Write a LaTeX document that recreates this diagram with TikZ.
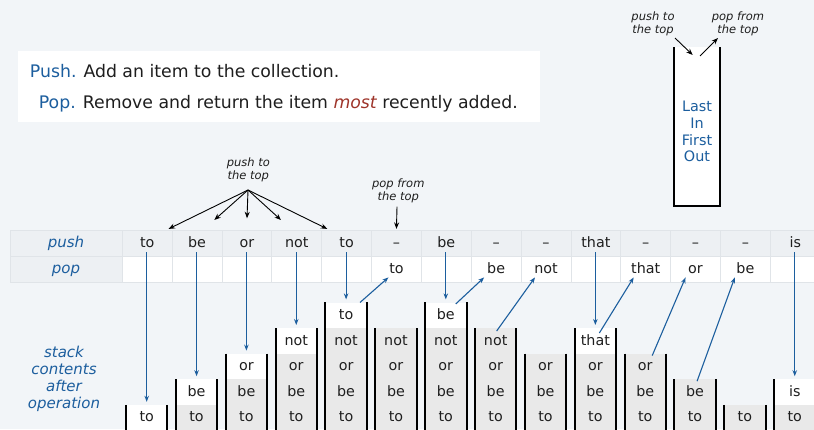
\documentclass[tikz,border=0pt]{standalone}
\usepackage{fontspec}
\setmainfont{DejaVu Sans}
\usetikzlibrary{arrows.meta,calc}
\definecolor{bg}{RGB}{242,245,248}
\definecolor{cellgray}{RGB}{237,240,243}
\definecolor{gridc}{RGB}{224,228,232}
\definecolor{stk}{RGB}{233,233,233}
\definecolor{myblue}{RGB}{28,94,158}
\definecolor{myred}{RGB}{158,52,42}
\definecolor{ink}{RGB}{30,30,30}
\tikzset{
  mainfont/.style={font=\fontsize{17.3}{20}\selectfont},
  tcell/.style={draw=gridc, line width=0.8pt, minimum width=49.85pt, minimum height=26pt,
    inner sep=0pt, font=\fontsize{14.3}{16}\selectfont, text height=11pt, text depth=3pt, text=ink},
  pushcell/.style={tcell, fill=cellgray},
  popcell/.style={tcell, fill=white},
  labcell/.style={tcell, fill=cellgray, minimum width=112pt, text=myblue,
    font=\fontsize{15}{17}\selectfont\itshape},
  stkcell/.style={minimum width=41pt, minimum height=25.6pt, inner sep=0pt,
    font=\fontsize{14.3}{16}\selectfont, text height=11pt, text depth=3pt, text=ink},
  wall/.style={line width=2pt, black},
  barrow/.style={myblue, line width=1.1pt, -{Stealth[length=6pt,width=4.5pt]}},
  karrow/.style={black, line width=0.9pt, -{Stealth[length=6.5pt,width=5pt]}},
  note/.style={font=\fontsize{11.5}{13.6}\selectfont\itshape, align=center, inner sep=0pt, text=ink},
}
\begin{document}
\begin{tikzpicture}[x=1pt,y=-1pt]
\fill[bg] (0,0) rectangle (814,429);
\useasboundingbox (0,0) rectangle (814,429);

% definition box
\node[fill=white, minimum width=522pt, minimum height=70.7pt, anchor=north west, inner sep=0pt] (box) at (18,51) {};
\node[mainfont, anchor=base east, inner sep=0pt, text=myblue] (pushlbl) at (76.7,77.5) {Push.};
\node[mainfont, anchor=base west, inner sep=0pt, text=ink] (pushtxt) at (83.3,77.5) {Add an item to the collection.};
\node[mainfont, anchor=base east, inner sep=0pt, text=myblue] (poplbl) at (76,108.3) {Pop.};
\node[mainfont, anchor=base west, inner sep=0pt, text=ink] (poptxt) at (82.7,108.3) {Remove and return the item \textcolor{myred}{\itshape most} recently added.};

% LIFO box
\node[fill=white, minimum width=46pt, minimum height=159pt, inner sep=0pt, anchor=north] (lifo) at (697,47) {};
\draw[wall] (lifo.north west) -- (lifo.south west) -- (lifo.south east) -- (lifo.north east);
\node[font=\fontsize{14.4}{16.7}\selectfont, text=myblue, align=center, inner sep=0pt] (lifotxt) at (697,131.5) {Last\\In\\First\\Out};
\node[note] (lpush) at (653,24) {push to\\the top};
\node[note] (lpop) at (738,24) {pop from\\the top};
\coordinate (lpa) at (675,38);
\coordinate (lpb) at (692.7,55);
\coordinate (lpc) at (700,56);
\coordinate (lpd) at (718,38);
\draw[karrow] (lpa) -- (lpb);
\draw[karrow] (lpc) -- (lpd);

% table
\node[labcell] (lblpush) at (66,243) {push};
\node[labcell] (lblpop) at (66,269) {pop};
\foreach \itm [count=\i] in {to,be,or,not,to,–,be,–,–,that,–,–,–,is}
  \node[pushcell] (p\i) at ({147.2+49.85*(\i-1)},243) {\itm};
\foreach \itm [count=\i] in {{},{},{},{},{},to,{},be,not,{},that,or,be,{}}
  \node[popcell] (q\i) at ({147.2+49.85*(\i-1)},269) {\itm};

% notes over the table
\node[note] (npush) at (248.3,170) {push to\\the top};
\node[note] (npop) at (398.3,191) {pop from\\the top};
\coordinate (src) at (248,190);
\coordinate (t2) at (214.3,220);
\coordinate (t3) at (247,218.3);
\coordinate (t4) at (281,220);
\coordinate (psrc) at (397,206.7);
\draw[karrow] (src) -- ([xshift=-4pt,yshift=0.7pt]p1.north east);
\draw[karrow] (src) -- (t2);
\draw[karrow] (src) -- (t3);
\draw[karrow] (src) -- (t4);
\draw[karrow] (src) -- ([xshift=6pt,yshift=0.7pt]p5.north west);
\draw[karrow] (psrc) -- ([yshift=0.7pt]p6.north);

% stacks
\foreach \i/\items/\nitems/\topw in {
  1/{to}/1/1, 2/{to,be}/2/1, 3/{to,be,or}/3/1, 4/{to,be,or,not}/4/1,
  5/{to,be,or,not,to}/5/1, 6/{to,be,or,not}/4/0, 7/{to,be,or,not,be}/5/1,
  8/{to,be,or,not}/4/0, 9/{to,be,or}/3/0, 10/{to,be,or,that}/4/1,
  11/{to,be,or}/3/0, 12/{to,be}/2/0, 13/{to}/1/0, 14/{to,is}/2/1}{
  \pgfmathsetmacro\cx{146.7+49.85*(\i-1)}
  \foreach \itm [count=\k] in \items {
    \def\fc{stk}
    \ifnum\k=\nitems\relax\ifnum\topw=1\relax\def\fc{white}\fi\fi
    \pgfmathsetmacro\cy{417.8-25.6*(\k-1)}
    \node[stkcell, fill=\fc] (s\i-\k) at (\cx,\cy) {\itm};
  }
  \draw[wall] (s\i-\nitems.north west) -- (s\i-1.south west);
  \draw[wall] (s\i-\nitems.north east) -- (s\i-1.south east);
}

\node[font=\fontsize{15}{16.9}\selectfont\itshape, text=myblue, align=center, inner sep=0pt] (stlbl) at (64,379) {stack\\contents\\after\\operation};

% push arrows
\foreach \i/\n in {1/1,2/2,3/3,4/4,5/5,7/5,10/4,14/2}
  \draw[barrow] ([yshift=4pt]s\i-\n.north |- p\i.south) -- ([yshift=3pt]s\i-\n.north);

% pop arrows
\draw[barrow] ([xshift=14pt]s5-5.north) -- ([xshift=-8pt,yshift=5pt]q6.south);
\draw[barrow] ([xshift=10pt,yshift=-1.5pt]s7-5.north) -- ([xshift=-12pt,yshift=5pt]q8.south);
\draw[barrow] ([xshift=1pt,yshift=-3pt]s8-4.north) -- ([xshift=-11pt,yshift=5pt]q9.south);
\draw[barrow] ([xshift=4pt,yshift=-5pt]s10-4.north) -- ([xshift=-12pt,yshift=5pt]q11.south);
\draw[barrow] ([xshift=7pt,yshift=-2pt]s11-3.north) -- ([xshift=-10pt,yshift=5pt]q12.south);
\draw[barrow] ([xshift=2pt,yshift=-2pt]s12-2.north) -- ([xshift=-10.6pt,yshift=5pt]q13.south);
\end{tikzpicture}
\end{document}
